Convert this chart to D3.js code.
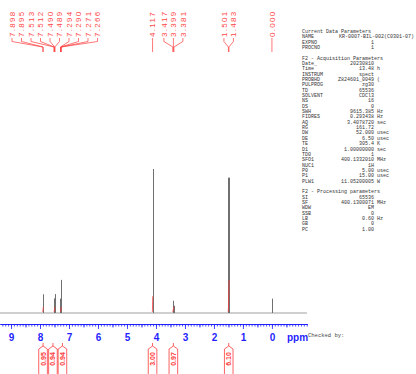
<!DOCTYPE html>
<html>
<head>
<meta charset="utf-8">
<script src="https://cdn.jsdelivr.net/npm/d3@7"></script>
<style>
  body { margin: 0; background: #fff; }
  svg { display: block; }
</style>
</head>
<body>
<div id="chart"></div>
<script>
// -- spectrum lines (ppm, relative intensity)
const peakPpm = [7.898, 7.895, 7.513, 7.512, 7.490, 7.489, 7.294, 7.290, 7.271, 7.266,
                 4.117, 3.417, 3.399, 3.381, 1.501, 1.483, 0.000];
const peakInt = [0.13, 0.12, 0.10, 0.10, 0.13, 0.13, 0.10, 0.10, 0.20, 0.23,
                 1.00, 0.05, 0.085, 0.05, 0.94, 0.94, 0.10];

// -- peak pick labels
const pickLabels = ['7.898', '7.895', '7.513', '7.512', '7.490', '7.489', '7.294', '7.290', '7.271', '7.266',
                    '4.117', '3.417', '3.399', '3.381', '1.501', '1.483', '0.000'];

// -- integrals
const intFrom = [7.91, 7.52, 7.30, 4.125, 3.43, 1.51];
const intTo = [7.88, 7.48, 7.26, 4.11, 3.37, 1.47];
const intValue = [0.95, 0.94, 0.94, 3.00, 0.97, 6.10];

// -- axis
const ppmTicks = [9, 8, 7, 6, 5, 4, 3, 2, 1, 0];

// -- parameter listing
const paramKeys = ['Current Data Parameters', 'NAME', 'EXPNO', 'PROCNO', '',
  'F2 - Acquisition Parameters', 'Date_', 'Time', 'INSTRUM', 'PROBHD', 'PULPROG', 'TD', 'SOLVENT', 'NS', 'DS',
  'SWH', 'FIDRES', 'AQ', 'RG', 'DW', 'DE', 'TE', 'D1', 'TD0', 'SFO1', 'NUC1', 'P0', 'P1', 'PLW1', '',
  'F2 - Processing parameters', 'SI', 'SF', 'WDW', 'SSB', 'LB', 'GB', 'PC'];
const paramValues = ['', 'KR-0007-BIL-002(C0301-07)', '1', '1', '',
  '', '20230810', '13.48', 'spect', 'Z824601_0049', 'zg30', '65536', 'CDCl3', '16', '0',
  '9615.385', '0.293438', '3.4078720', '161.72', '52.000', '6.50', '305.4', '1.00000000', '1', '400.1332010', '1H', '5.00', '15.00', '11.05200005', '',
  '', '65536', '400.1300071', 'EM', '0', '0.60', '0', '1.00'];
const paramUnits = ['', '', '', '', '',
  '', '', 'h', '', '(', '', '', '', '', '',
  'Hz', 'Hz', 'sec', '', 'usec', 'usec', 'K', 'sec', '', 'MHz', '', 'usec', 'usec', 'W', '',
  '', '', 'MHz', '', '', 'Hz', '', ''];

const width = 416, height = 374;
const svg = d3.select('#chart').append('svg')
  .attr('width', width)
  .attr('height', height);

const x = d3.scaleLinear().domain([9.38, -1.21]).range([0, 307]);
const baseY = 313;
const y = d3.scaleLinear().domain([0, 1]).range([baseY, 169]);
const intH = d3.scaleLinear().domain([0, 6.1]).range([0, 32]);

const red = '#ff3b3b';
const blue = '#1f1fff';

// labels laid out so they don't overlap: cluster, then centre each cluster on its peaks
function spread(xs, gap) {
  const groups = [];
  xs.forEach((v, i) => {
    groups.push({ items: [i], center: v });
    // merge while overlapping the previous group
    while (groups.length > 1) {
      const a = groups[groups.length - 2], b = groups[groups.length - 1];
      const aEnd = a.center + (a.items.length - 1) * gap / 2;
      const bStart = b.center - (b.items.length - 1) * gap / 2;
      if (bStart - aEnd >= gap) break;
      const items = a.items.concat(b.items);
      groups.splice(-2, 2, { items, center: d3.mean(items, k => xs[k]) });
    }
  });
  const out = [];
  groups.forEach(g => g.items.forEach((k, j) => {
    out[k] = g.center + (j - (g.items.length - 1) / 2) * gap;
  }));
  return out;
}

// -- baseline
svg.append('line')
  .attr('x1', x.range()[0]).attr('x2', x.range()[1])
  .attr('y1', baseY).attr('y2', baseY)
  .attr('stroke', '#a0a0a0').attr('stroke-width', 1);

// -- peaks
svg.append('g')
  .selectAll('line')
  .data(peakPpm)
  .join('line')
  .attr('x1', d => Math.round(x(d)) + 0.5).attr('x2', d => Math.round(x(d)) + 0.5)
  .attr('y1', baseY)
  .attr('y2', (d, i) => y(peakInt[i]))
  .attr('stroke', '#707070')
  .attr('stroke-width', 1);

// -- integral curves
svg.append('g')
  .attr('fill', 'none')
  .attr('stroke', red)
  .attr('stroke-width', 0.8)
  .selectAll('path')
  .data(intValue)
  .join('path')
  .attr('d', (v, i) => {
    const x0 = x(intFrom[i]), x1 = x(intTo[i]);
    const y0 = baseY - 1, y1 = baseY - 1 - intH(v);
    return `M${x0},${y0} C${(x0 + x1) / 2},${y0} ${(x0 + x1) / 2},${y1} ${x1},${y1}`;
  });

// -- peak pick labels and leaders
const pickX = spread(peakPpm.map(x), 9.5);
const picks = svg.append('g');
picks.selectAll('path')
  .data(peakPpm)
  .join('path')
  .attr('fill', 'none')
  .attr('stroke', red)
  .attr('stroke-width', 0.7)
  .attr('d', (d, i) => `M${pickX[i]},38 V41.5 L${x(d)},47 V52`);
picks.selectAll('text')
  .data(pickLabels)
  .join('text')
  .attr('transform', (d, i) => `translate(${pickX[i]},37) rotate(-90)`)
  .attr('dy', '0.35em')
  .attr('font-family', 'Liberation Sans, Arial, sans-serif')
  .attr('font-size', 8)
  .attr('letter-spacing', 1.3)
  .attr('fill', '#ff4545')
  .text(d => d);

// -- ppm ruler
const ruler = svg.append('g').attr('transform', 'translate(0,324)');
ruler.call(d3.axisBottom(x).tickValues(d3.range(-12, 94).map(v => v / 10)).tickSize(2.5).tickSizeOuter(0).tickFormat(''));
ruler.append('g').call(d3.axisBottom(x).tickValues(d3.range(-1, 10).map(v => v + 0.5)).tickSize(3.5).tickSizeOuter(0).tickFormat(''));
ruler.append('g').call(d3.axisBottom(x).tickValues(ppmTicks).tickSize(5).tickSizeOuter(0).tickPadding(5).tickFormat(d3.format('d')));
ruler.selectAll('path, line').attr('stroke', blue).attr('stroke-width', 0.8);
ruler.selectAll('text')
  .attr('fill', blue)
  .attr('font-family', 'Liberation Sans, Arial, sans-serif')
  .attr('font-weight', 'bold')
  .attr('font-size', 10);
svg.append('text')
  .attr('x', 287).attr('y', 341)
  .attr('fill', blue)
  .attr('font-family', 'Liberation Sans, Arial, sans-serif')
  .attr('font-weight', 'bold')
  .attr('font-size', 10)
  .text('ppm');

// -- integral boxes below the ruler
const boxX = spread(intFrom.map((f, i) => x((f + intTo[i]) / 2)), 9.5);
const boxes = svg.append('g');
boxes.selectAll('path')
  .data(intValue)
  .join('path')
  .attr('fill', '#fff')
  .attr('stroke', red)
  .attr('stroke-width', 0.8)
  .attr('d', (v, i) => {
    const c = boxX[i];
    return `M${c},343 V346 L${c + 4.3},349 V376 H${c - 4.3} V349 L${c},346`;
  });
boxes.selectAll('text')
  .data(intValue)
  .join('text')
  .attr('transform', (v, i) => `translate(${boxX[i]},359) rotate(-90)`)
  .attr('text-anchor', 'middle')
  .attr('dy', '0.35em')
  .attr('font-family', 'Liberation Sans, Arial, sans-serif')
  .attr('font-weight', 'bold')
  .attr('font-size', 7)
  .attr('fill', red)
  .text(v => d3.format('.2f')(v));

// -- parameter listing
const lh = 5.35;
const params = svg.append('g')
  .attr('font-family', 'Liberation Mono, DejaVu Sans Mono, monospace')
  .attr('font-size', 5)
  .attr('fill', '#333');
paramKeys.forEach((k, i) => {
  const ty = 32.8 + i * lh;
  if (k) params.append('text').attr('x', 302).attr('y', ty).text(k);
  if (paramValues[i]) {
    params.append('text')
      .attr('x', i === 1 ? 414 : 374)
      .attr('y', ty)
      .attr('text-anchor', 'end')
      .text(paramValues[i]);
  }
  if (paramUnits[i]) params.append('text').attr('x', 377).attr('y', ty).text(paramUnits[i]);
});

svg.append('text')
  .attr('x', 308).attr('y', 337)
  .attr('font-family', 'Liberation Mono, DejaVu Sans Mono, monospace')
  .attr('font-size', 5.5)
  .attr('fill', '#444')
  .text('Checked by:');
</script>
</body>
</html>
